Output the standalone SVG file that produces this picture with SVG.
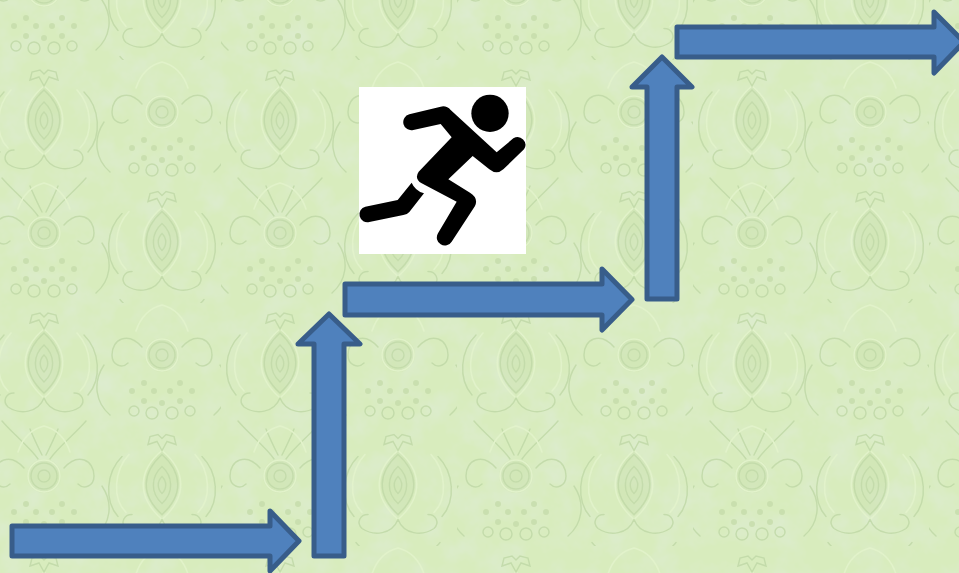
<svg xmlns="http://www.w3.org/2000/svg" xmlns:xlink="http://www.w3.org/1999/xlink" width="959" height="573" viewBox="0 0 959 573">
<style>
.arrow{fill:#4f81bd;stroke:#385d8a;stroke-width:5;stroke-linejoin:round}
.d{fill:none;stroke:#bfd8a6;stroke-width:1.5;stroke-linecap:round}
.l{fill:none;stroke:#e4f4cd;stroke-width:1.5;stroke-linecap:round}
.s{fill:#c6dcab}
.w{fill:#c9dfae;opacity:.55}
</style>
<defs>
<filter id="soft" x="0" y="0" width="100%" height="100%"><feGaussianBlur stdDeviation=".6"/></filter>
<filter id="mottle" x="0" y="0" width="100%" height="100%">
<feTurbulence type="fractalNoise" baseFrequency=".035" numOctaves="4" seed="7"/>
<feColorMatrix type="matrix" values="0 0 0 0 .72  0 0 0 0 .84  0 0 0 0 .62  1.9 0 0 0 -.72"/>
</filter>
<g id="tear">
<path class="w" d="M0 -34C-22 -14 -24 10 0 32C24 10 22 -14 0 -34Z"/>
<path class="d" d="M0 -30C-20 -12 -22 10 0 30C22 10 20 -12 0 -30Z"/>
<path class="l" d="M0 -34C-24 -14 -26 12 0 35C26 12 24 -14 0 -34Z"/>
<path class="d" d="M0 -18C-11 -8 -12 8 0 19C12 8 11 -8 0 -18ZM0 -8C-5 -3 -5 4 0 9C5 4 5 -3 0 -8Z"/>
<path class="d" d="M0 -34L-5 -43L-14 -40L-12 -48L-4 -50L0 -46L4 -50L12 -48L14 -40L5 -43Z"/>
<path class="d" d="M0 35C-6 50 -24 52 -36 44C-42 38 -38 30 -30 30M0 35C6 50 24 52 36 44C42 38 38 30 30 30"/>
<path class="l" d="M-33 -30C-48 -14 -50 14 -36 28M33 -30C48 -14 50 14 36 28"/>
<path class="d" d="M-40 -28C-56 -12 -58 16 -44 32M40 -28C56 -12 58 16 44 32"/>
<path class="d" d="M-42 58C-30 72 -14 84 -6 96M42 58C30 72 14 84 6 96M-14 66C-10 76 -6 84 -2 92M14 66C10 76 6 84 2 92"/>
</g>
<g id="flower">
<circle class="w" r="17"/>
<circle class="l" r="16"/><circle class="d" r="13"/><circle class="d" r="6"/>
<path class="d" d="M-20 -8C-34 -24 -50 -16 -50 0C-50 10 -40 14 -34 8M20 -8C34 -24 50 -16 50 0C50 10 40 14 34 8"/>
<path class="l" d="M-26 -24C-20 -42 -8 -48 0 -50C8 -48 20 -42 26 -24"/>
<path class="d" d="M-58 10C-70 28 -66 48 -52 60M58 10C70 28 66 48 52 60"/>
<circle class="s" cx="-18" cy="28" r="3"/><circle class="s" cx="-8" cy="36" r="3"/><circle class="s" cx="8" cy="36" r="3"/><circle class="s" cx="18" cy="28" r="3"/>
<circle class="s" cx="-30" cy="36" r="3"/><circle class="s" cx="-18" cy="46" r="3"/><circle class="s" cx="0" cy="48" r="3"/><circle class="s" cx="18" cy="46" r="3"/><circle class="s" cx="30" cy="36" r="3"/>
<circle class="d" cx="-10" cy="58" r="6"/><circle class="d" cx="10" cy="58" r="6"/>
<circle class="d" cx="-28" cy="56" r="5"/><circle class="d" cx="28" cy="56" r="5"/>
</g>
<pattern id="damask" width="236" height="243" patternUnits="userSpaceOnUse" patternTransform="translate(-15,60)">
<use xlink:href="#tear" href="#tear" x="59" y="60"/>
<use xlink:href="#tear" href="#tear" x="59" y="303"/>
<use xlink:href="#tear" href="#tear" x="177" y="181.500"/>
<use xlink:href="#flower" href="#flower" x="59" y="173"/>
<use xlink:href="#flower" href="#flower" x="177" y="52"/>
<use xlink:href="#flower" href="#flower" x="177" y="295"/>
<use xlink:href="#flower" href="#flower" x="59" y="-70"/>
</pattern>
</defs>
<rect id="background" width="959" height="573" fill="#d8ecbd"/>
<rect width="959" height="573" filter="url(#mottle)"/>
<rect width="959" height="573" fill="url(#damask)" filter="url(#soft)" opacity=".8"/>
<g id="connectors">
<path id="arrow-1" class="arrow" d="M12 526H270V511L299 541L270 571V556H12Z"/>
<path id="arrow-2" class="arrow" d="M314 556V344H298L329 314L360 344H344V556Z"/>
<path id="arrow-3" class="arrow" d="M345 284H602V269L632 299.500L602 330V315H345Z"/>
<path id="arrow-4" class="arrow" d="M647 299V87H632L662 57L692 87H677V299Z"/>
<path id="arrow-5" class="arrow" d="M677 27H934V12L964 42L934 73V57H677Z"/>
</g>
<g id="runner">
<rect x="359" y="87" width="167" height="167" fill="#fff"/>
<g transform="translate(350,80) scale(.33333)">
<circle cx="420" cy="100" r="56"/>
<path d="M178 103L272 80Q290 76 302 90L440 217L490 175A23.500 23.500 0 0 1 522 208L460 268Q440 286 418 268L368 228L295 298L360 338Q386 354 375 378L305 485A23.500 23.500 0 0 1 264 460L320 365L215 310Q192 296 206 275L305 172L272 132L190 150A23.500 23.500 0 0 1 178 103Z"/>
<path d="M185 308Q195 332 222 340L178 396Q172 403 160 405L58 426A23.500 23.500 0 0 1 46 380L143 360Z"/>
</g>
</g>
</svg>
